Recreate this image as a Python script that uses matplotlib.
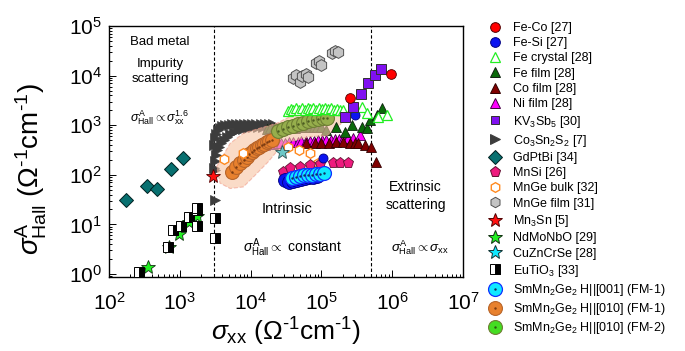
import matplotlib
matplotlib.use('Agg')
import matplotlib.pyplot as plt
from matplotlib.lines import Line2D
from matplotlib.ticker import LogLocator, LogFormatterMathtext, NullFormatter

plt.rcParams['font.family'] = ['Liberation Sans', 'DejaVu Sans']
plt.rcParams['mathtext.fontset'] = 'custom'
plt.rcParams['mathtext.rm'] = 'Liberation Sans'
plt.rcParams['mathtext.it'] = 'Liberation Sans:italic'
plt.rcParams['mathtext.bf'] = 'Liberation Sans:bold'
plt.rcParams['mathtext.sf'] = 'Liberation Sans'

# ---- data (sigma_xx, sigma_AH) ----
feco_x = [250000, 950000]
feco_y = [3500, 10700]

fesi_x = [30600, 34900, 39700, 45200, 51500, 58600, 66800, 76100, 86700]
fesi_y = [78, 72, 75, 78, 82, 86, 90, 92, 95]
fesi2_x = [105000, 295000]
fesi2_y = [220, 1600]

fecryst_x = [34000, 37000, 40000, 44000, 48500, 53000, 58000, 64000, 70000, 77000, 85000,
             93000, 102000, 112000, 123000, 135000, 150000, 165000, 185000, 205000,
             370000, 440000, 630000, 850000]
fecryst_y = [1950, 2150, 2000, 2200, 2050, 2200, 2050, 2250, 2100, 2200, 2050,
             2200, 2100, 2250, 2100, 2200, 2050, 2150, 2050, 2000,
             2300, 1740, 1450, 1600]

fefilm_x = [17000, 19000, 21500, 24000, 27000, 30000, 34000, 38000, 43000, 48000, 54000,
            61000, 69000, 78000, 88000, 100000, 118000, 163000, 215000, 268000, 370000,
            440000, 485000, 610000, 710000]
fefilm_y = [850, 860, 860, 870, 870, 880, 880, 890, 890, 900, 900,
            900, 910, 910, 920, 920, 800, 930, 740, 1000, 930,
            870, 1260, 1600, 2200]

cofilm_x = [60000, 80000, 100000, 130000, 160000, 200000, 250000, 300000, 330000, 410000, 510000, 600000]
cofilm_y = [430, 440, 440, 445, 450, 450, 440, 430, 430, 400, 370, 183]

nifilm_x = [12000, 14000, 16000, 18500, 21000, 24000, 27000, 31000, 35000, 40000, 46000, 52000,
            60000, 68000, 78000, 90000, 103000, 118000, 135000, 155000, 178000, 205000,
            240000, 280000, 350000]
nifilm_y = [380, 390, 400, 410, 420, 430, 435, 440, 450, 455, 460, 470,
            475, 480, 490, 495, 500, 505, 510, 515, 520, 530,
            540, 560, 640]

kvsb_x = [215000, 275000, 359000, 460000, 570000, 690000]
kvsb_y = [1450, 2300, 4350, 7000, 10100, 13800]

# Co3Sn2S2: two temperature sweeps plus isolated low points
cosns_x = [3000, 3100, 3250, 3450, 3700, 4000, 4400, 4900, 5500, 6200, 7000, 8000, 9200,
           10500, 12000, 13800, 15900, 18200, 20700,
           3040, 3120, 3230, 3400, 3580, 3850, 4200, 4650, 5140, 5800, 6600, 7700, 9100,
           10700, 12600, 15000, 17700,
           3150, 3150]
cosns_y = [400, 560, 680, 790, 880, 950, 990, 1020, 1040, 1060, 1070, 1070, 1070,
           1070, 1070, 1060, 1060, 1050, 1040,
           137, 190, 250, 310, 365, 430, 500, 580, 665, 730, 800, 840, 880,
           900, 920, 940, 960,
           31, 125]

gdptbi_x = [174, 340, 480, 745, 1100]
gdptbi_y = [31, 60, 52, 133, 221]

mnsi_x = [29000, 36000, 49900, 69000, 95500, 147000, 183000, 240000]
mnsi_y = [115, 135, 146, 158, 165, 171, 175, 175]

mngeb_x = [4200, 7700, 34000, 49000, 69000, 89000]
mngeb_y = [205, 279, 370, 316, 270, 173]

mngef_x = [40000, 44000, 50000, 54000, 60000, 65000, 85000, 92000, 100000, 140000, 155000, 174000]
mngef_y = [8900, 10500, 7550, 9800, 10800, 9300, 18000, 19500, 16300, 28000, 31000, 30000]

mn3sn_x = [2900]
mn3sn_y = [96]

ndmo_x = [359, 700, 980, 1350, 1770]
ndmo_y = [1.4, 3.5, 6.4, 11.3, 14.8]

cuzn_x = [28000]
cuzn_y = [294]

eutio_x = [268, 688, 793, 1030, 1350, 1770, 1770, 1740, 3150, 3150]
eutio_y = [1.08, 3.55, 7.7, 9.4, 13.9, 9.3, 19.5, 21, 13.2, 5.2]

sm001_x = [38500, 43800, 49900, 56800, 64700, 73700, 83900, 95500, 109000]
sm001_y = [86, 90, 95, 97, 99, 101, 104, 106, 109]

sm010a_x = [5400, 6220, 7090, 7940, 8810, 9490, 10370, 11170, 12200, 13140, 14350,
            15480, 16880, 18200, 19860]
sm010a_y = [115, 144, 173, 203, 232, 262, 292, 316, 342, 372, 400,
            427, 465, 484, 500]

sm010b_x = [24400, 28700, 33800, 39700, 46700, 55000, 64700, 76100, 89500, 105000, 120000]
sm010b_y = [764, 838, 920, 986, 1057, 1133, 1215, 1274, 1334, 1365, 1397]

# shaded band around the SmMn2Ge2 H||[010] data
halo_x = [3320, 5140, 7890, 13500, 23300, 45000, 95000, 183000, 238000,
          183000, 119000, 69000, 36000, 23300, 17800, 11000, 7890, 5140, 3700]
halo_y = [146, 431, 687, 870, 1090, 1740, 2190, 2300, 1850,
          1000, 610, 590, 465, 292, 184, 91, 57, 53, 68]

fig = plt.figure(figsize=(6.85, 3.51), dpi=100)
ax = fig.add_axes([109 / 685, 1 - 277 / 351, 354 / 685, 251 / 351])
ax.set_xscale('log')
ax.set_yscale('log')


def pts(x, y, marker, size, face, edge, z=5, lw=0.7, **kw):
    ax.plot(x, y, linestyle='none', marker=marker, markersize=size,
            markerfacecolor=face, markeredgecolor=edge, markeredgewidth=lw,
            zorder=z, **kw)


ax.axvline(3000, color='k', ls=(0, (3, 2)), lw=0.8, zorder=1)
ax.axvline(5e5, color='k', ls=(0, (3, 2)), lw=0.8, zorder=1)

pts(cosns_x, cosns_y, '>', 7, '#3c3c3c', '#3c3c3c', z=2, lw=0.5)
pts(fefilm_x[:17], fefilm_y[:17], '^', 6.5, '#1f5f1f', '#102010', z=2, lw=0.6)
pts(nifilm_x, nifilm_y, '^', 6.5, '#ff00ff', '#400040', z=2, lw=0.6)
pts(cofilm_x, cofilm_y, '^', 6.5, '#800000', '#300000', z=2, lw=0.6)

ax.fill(halo_x, halo_y, facecolor='#f7c3a3', alpha=0.6, edgecolor='#f09a88',
        linestyle='--', linewidth=0.8, zorder=3)

pts(sm010a_x, sm010a_y, 'o', 10, '#e8812e', '#b8652a', z=4, lw=0.8)
ax.plot(sm010a_x, sm010a_y, ls='none', marker='.', ms=1.5, color='#7a3a10', zorder=4)
pts(sm010b_x, sm010b_y, 'o', 10, '#96ae4c', '#6e7f34', z=4, lw=0.8)
ax.plot(sm010b_x, sm010b_y, ls='none', marker='.', ms=1.5, color='#4a5a20', zorder=4)

pts(fefilm_x[17:], fefilm_y[17:], '^', 7, '#0a6a0a', '#102010', z=5, lw=0.6)
pts(fecryst_x, fecryst_y, '^', 7, 'white', '#22ee22', z=5, lw=0.9)
pts(mngeb_x, mngeb_y, 'h', 7, 'white', '#ff8a20', z=5, lw=1.0)
pts(cuzn_x, cuzn_y, '*', 10, '#6cc8c8', '#305050', z=5, lw=0.6)
pts(mnsi_x, mnsi_y, 'p', 8, '#ee1a7e', '#601030', z=5, lw=0.6)
pts(fesi_x, fesi_y, 'o', 10, '#0a14f0', '#000080', z=5, lw=0.6)
pts(fesi2_x, fesi2_y, 'o', 6.5, '#0a14f0', '#000080', z=5, lw=0.6)
pts(sm001_x, sm001_y, 'o', 10, '#10e8ff', '#1030ff', z=5, lw=0.9)
ax.plot(sm001_x, sm001_y, ls='none', marker='.', ms=1.5, color='#103060', zorder=5)
pts(mngef_x, mngef_y, 'h', 8.5, '#c4c4c4', '#505050', z=5, lw=0.7)
pts(kvsb_x, kvsb_y, 's', 6.5, '#8010f0', '#303030', z=5, lw=0.7)
pts(feco_x, feco_y, 'o', 7, '#ff0000', '#500000', z=5, lw=0.6)
pts(gdptbi_x, gdptbi_y, 'D', 7.5, '#087070', '#002020', z=5, lw=0.7)
pts(ndmo_x, ndmo_y, '*', 10, '#22ee22', '#103010', z=5, lw=0.6)
pts(eutio_x, eutio_y, 's', 6.5, 'black', 'black', z=6, lw=0.7,
    fillstyle='right', markerfacecoloralt='white')
pts(mn3sn_x, mn3sn_y, '*', 10, '#ff1010', '#500000', z=6, lw=0.6)

ax.set_xlim(100, 1e7)
ax.set_ylim(0.87, 1e5)

for axis in (ax.xaxis, ax.yaxis):
    axis.set_major_locator(LogLocator(base=10, numticks=10))
    axis.set_minor_locator(LogLocator(base=10, subs=range(2, 10), numticks=20))
    axis.set_major_formatter(LogFormatterMathtext())
    axis.set_minor_formatter(NullFormatter())
ax.tick_params(which='both', direction='in', top=False, right=False, width=0.7)
ax.tick_params(which='major', length=5, labelsize=15)
ax.tick_params(which='minor', length=2.5)
ax.tick_params(axis='x', pad=11)
ax.tick_params(axis='y', pad=5)
for sp in ax.spines.values():
    sp.set_linewidth(1.0)

unit = '($\\Omega^{\\rm \u20101}$cm$^{\\rm \u20101}$)'
ax.set_xlabel(r'$\sigma_{\rm xx}$ ' + unit, fontsize=19, labelpad=1)
ax.set_ylabel(r'$\sigma^{\rm A}_{\rm Hall}$ ' + unit, fontsize=20)
ax.yaxis.set_label_coords(-0.17, 0.43)

ax.text(0.144, 0.936, 'Bad metal', transform=ax.transAxes, ha='center', va='center', fontsize=9.5)
ax.text(0.144, 0.82, 'Impurity\nscattering', transform=ax.transAxes, ha='center', va='center',
        fontsize=9.5, linespacing=1.3)
ax.text(0.143, 0.633, r'$\sigma^{\rm A}_{\rm Hall}\propto\sigma^{\rm 1.6}_{\rm xx}$',
        transform=ax.transAxes, ha='center', va='center', fontsize=9)
ax.text(0.504, 0.271, 'Intrinsic', transform=ax.transAxes, ha='center', va='center', fontsize=10.5)
ax.text(0.518, 0.116, r'$\sigma^{\rm A}_{\rm Hall}\propto$ constant',
        transform=ax.transAxes, ha='center', va='center', fontsize=10)
ax.text(0.866, 0.323, 'Extrinsic\nscattering', transform=ax.transAxes, ha='center', va='center',
        fontsize=10, linespacing=1.3)
ax.text(0.879, 0.116, r'$\sigma^{\rm A}_{\rm Hall}\propto\sigma_{\rm xx}$',
        transform=ax.transAxes, ha='center', va='center', fontsize=9.5)


def h(marker, size, face, edge, lw=0.7, **kw):
    return Line2D([], [], ls='none', marker=marker, markersize=size, markerfacecolor=face,
                  markeredgecolor=edge, markeredgewidth=lw, **kw)


def dot(color):
    return Line2D([], [], ls='none', marker='.', markersize=1.5, color=color)


handles = [
    h('o', 7, '#ff0000', '#500000'),
    h('o', 7, '#0a14f0', '#000080'),
    h('^', 7, 'white', '#22ee22', lw=0.9),
    h('^', 7, '#0a6a0a', '#102010'),
    h('^', 7, '#800000', '#300000'),
    h('^', 7, '#ff00ff', '#400040'),
    h('s', 6, '#8010f0', '#303030'),
    h('>', 7, '#3c3c3c', '#3c3c3c'),
    h('D', 7, '#087070', '#002020'),
    h('p', 8, '#ee1a7e', '#601030'),
    h('h', 7, 'white', '#ff8a20', lw=1.0),
    h('h', 7.5, '#c4c4c4', '#505050'),
    h('*', 10, '#ff1010', '#500000'),
    h('*', 10, '#22ee22', '#103010'),
    h('*', 10, '#10e8ff', '#103030'),
    h('s', 6.5, 'black', 'black', fillstyle='right', markerfacecoloralt='white'),
    (h('o', 10, '#10e8ff', '#1030ff', lw=0.9), dot('#103060')),
    (h('o', 10, '#e8812e', '#b8652a', lw=0.8), dot('#7a3a10')),
    (h('o', 10, '#44dd22', '#6e7f34', lw=0.8), dot('#2a5a10')),
]
labels = [
    'Fe-Co [27]', 'Fe-Si [27]', 'Fe crystal [28]', 'Fe film [28]', 'Co film [28]',
    'Ni film [28]', r'KV$_{\rm 3}$Sb$_{\rm 5}$ [30]', r'Co$_{\rm 3}$Sn$_{\rm 2}$S$_{\rm 2}$ [7]',
    'GdPtBi [34]', 'MnSi [26]', 'MnGe bulk [32]', 'MnGe film [31]', r'Mn$_{\rm 3}$Sn [5]',
    'NdMoNbO [29]', 'CuZnCrSe [28]', r'EuTiO$_{\rm 3}$ [33]',
    r'SmMn$_{\rm 2}$Ge$_{\rm 2}$ H||[001] (FM-1)',
    r'SmMn$_{\rm 2}$Ge$_{\rm 2}$ H||[010] (FM-1)',
    r'SmMn$_{\rm 2}$Ge$_{\rm 2}$ H||[010] (FM-2)',
]
fig.legend(handles, labels, loc='upper left', bbox_to_anchor=(488.7 / 685, 1 - 22 / 351),
           frameon=False, fontsize=9, handlelength=1.0, handletextpad=0.94,
           labelspacing=0.26, borderpad=0, borderaxespad=0)

fig.savefig('out.png', dpi=100)
